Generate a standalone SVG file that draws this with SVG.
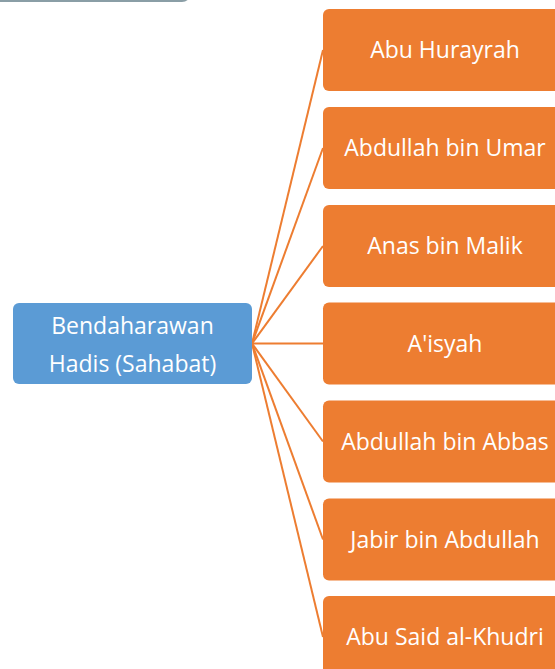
<svg xmlns="http://www.w3.org/2000/svg" width="555" height="669" viewBox="0 0 555 669">
<style>
.o{fill:#ed7d31}
.t{font-family:"Open Sans","Noto Sans",sans-serif;font-size:23px;fill:#ffffff;text-anchor:middle}
.c{stroke:#ed7d31;stroke-width:2;fill:none}
</style>
<rect x="-20" y="-40" width="210" height="41" rx="8" fill="#ffffff" stroke="#8a9ea6" stroke-width="2"/>
<g id="connectors">
<line class="c" x1="252" y1="343.5" x2="323" y2="50"/>
<line class="c" x1="252" y1="343.5" x2="323" y2="148"/>
<line class="c" x1="252" y1="343.5" x2="323" y2="246"/>
<line class="c" x1="252" y1="343.5" x2="323" y2="343.5"/>
<line class="c" x1="252" y1="343.5" x2="323" y2="441.5"/>
<line class="c" x1="252" y1="343.5" x2="323" y2="539.5"/>
<line class="c" x1="252" y1="343.5" x2="323" y2="637"/>
</g>
<g id="root">
<rect x="13" y="303" width="239" height="81" rx="6" fill="#5b9bd5"/>
<text class="t" x="132.5" y="334">Bendaharawan</text>
<text class="t" x="132.5" y="372">Hadis (Sahabat)</text>
</g>
<g id="n1"><rect class="o" x="323" y="9" width="244" height="82" rx="6"/><text class="t" x="445" y="58">Abu Hurayrah</text></g>
<g id="n2"><rect class="o" x="323" y="107" width="244" height="82" rx="6"/><text class="t" x="445" y="156">Abdullah bin Umar</text></g>
<g id="n3"><rect class="o" x="323" y="205" width="244" height="82" rx="6"/><text class="t" x="445" y="254">Anas bin Malik</text></g>
<g id="n4"><rect class="o" x="323" y="302.5" width="244" height="82" rx="6"/><text class="t" x="445" y="351.5">A'isyah</text></g>
<g id="n5"><rect class="o" x="323" y="400.5" width="244" height="82" rx="6"/><text class="t" x="445" y="449.5">Abdullah bin Abbas</text></g>
<g id="n6"><rect class="o" x="323" y="498.5" width="244" height="82" rx="6"/><text class="t" x="445" y="547.5">Jabir bin Abdullah</text></g>
<g id="n7"><rect class="o" x="323" y="596" width="244" height="82" rx="6"/><text class="t" x="445" y="645">Abu Said al-Khudri</text></g>
</svg>
